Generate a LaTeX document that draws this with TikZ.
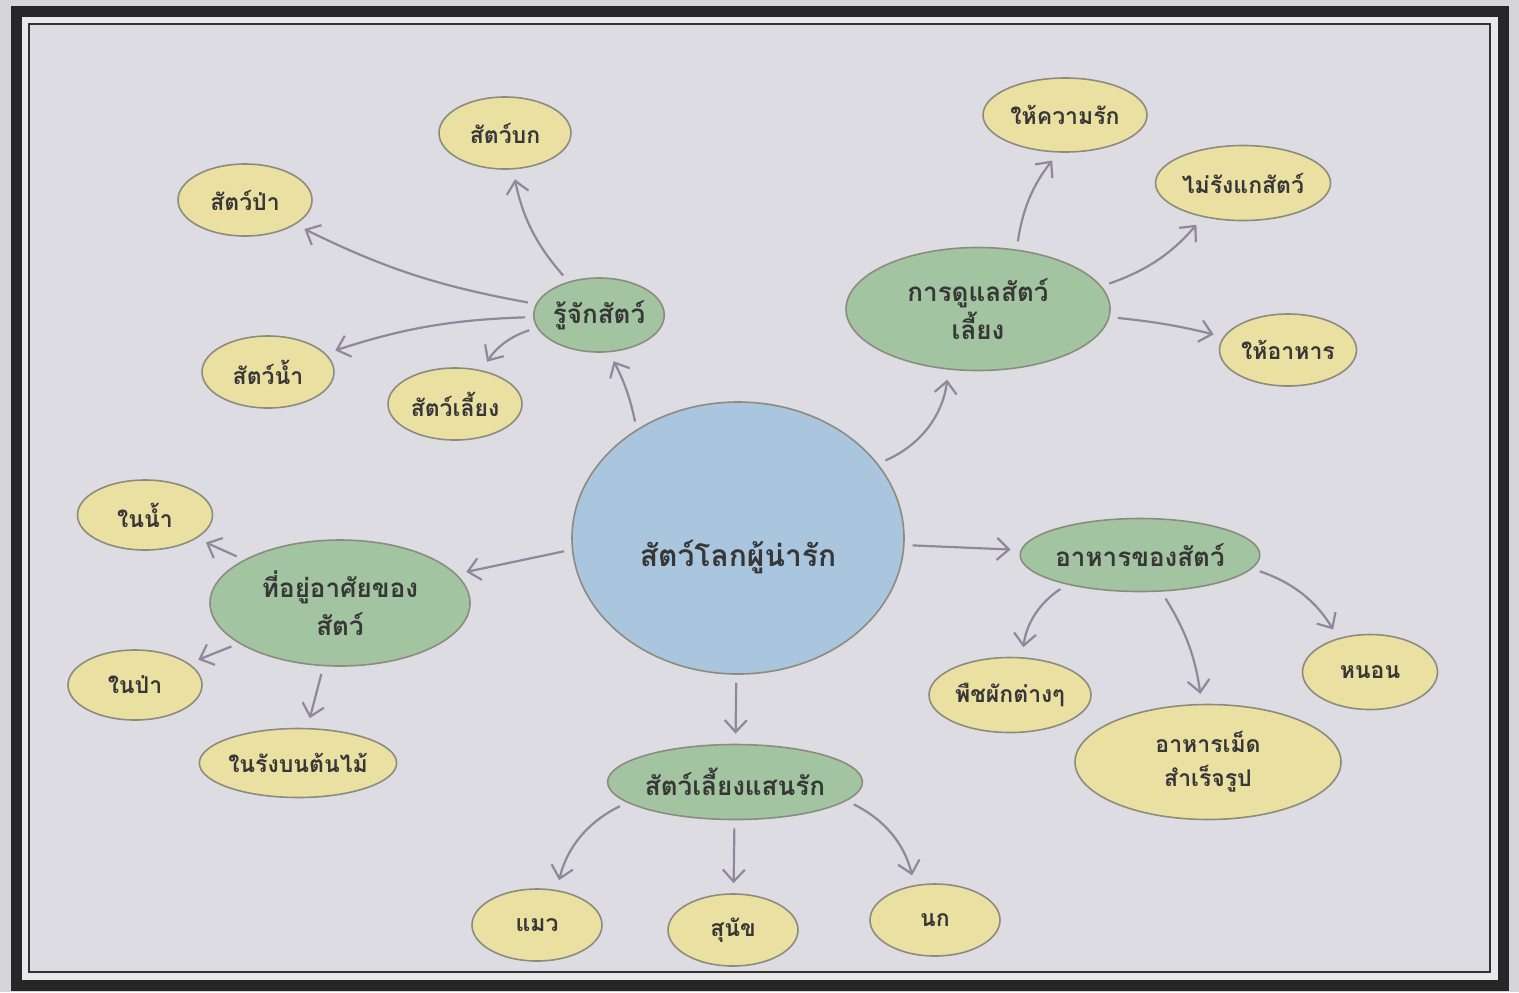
\documentclass[tikz,border=0pt]{standalone}
\usepackage{fontspec}
\newfontfamily\thaifont[Script=Thai]{Loma}
\usepackage{tikz}
\usetikzlibrary{arrows.meta}
\usetikzlibrary{positioning}
\usetikzlibrary{shapes.geometric}

\definecolor{margin}{RGB}{214,213,215}
\definecolor{gap}{RGB}{232,231,234}
\definecolor{paper}{RGB}{222,220,227}
\definecolor{hubblue}{RGB}{170,197,222}
\definecolor{topicgreen}{RGB}{162,196,160}
\definecolor{leafyellow}{RGB}{234,224,162}
\definecolor{rimgray}{RGB}{140,140,126}
\definecolor{linkgray}{RGB}{142,136,156}
\definecolor{inkgray}{RGB}{55,55,55}

\tikzset{
    hub/.style={
           ellipse,
           draw=rimgray, line width=0.8pt,
           fill=hubblue,
           minimum width=166pt,
           minimum height=136pt,
           inner sep=0pt,
           text height=28pt, text depth=0pt,
           text=inkgray,
           font=\thaifont\bfseries\fontsize{15}{20}\selectfont,
           },
    topic/.style={
           ellipse,
           draw=rimgray, line width=0.8pt,
           fill=topicgreen,
           minimum width=66pt,
           minimum height=37pt,
           inner sep=0pt,
           align=center,
           text=inkgray,
           font=\thaifont\bfseries\fontsize{13}{19}\selectfont,
           },
    leaf/.style={
           ellipse,
           draw=rimgray, line width=0.8pt,
           fill=leafyellow,
           minimum width=66pt,
           minimum height=36pt,
           inner sep=0pt,
           align=center,
           text=inkgray,
           font=\thaifont\bfseries\fontsize{11.5}{17}\selectfont,
           },
    link/.style={
           color=linkgray, line width=1.1pt,
           shorten <=4pt, shorten >=5pt,
           },
}

\begin{document}
\begin{tikzpicture}
[
x=0.5pt,y=-0.5pt,
->,>={Straight Barb[length=6pt,width=11pt]}
]
 \useasboundingbox (0,0) rectangle (1519,992);

 % paper and double frame
 \fill[margin] (0,0) rectangle (1519,992);
 \fill[gap] (16,11) rectangle (1503,985);
 \fill[paper] (29,24) rectangle (1490,972);
 \draw[-, black!85, line width=5.5pt] (16,11) rectangle (1503,985);
 \draw[-, black!80, line width=1.4pt] (29,24) rectangle (1490,972);

 % middle node (text sits a little low in the circle)
 \node[hub] (CENTER) at (738,538) {สัตว์โลกผู้น่ารัก};

 % five topics around the middle
 \node[topic,
 above of=CENTER,
 node distance=111.5pt,
 xshift=-69.5pt,
 minimum width=65pt] (KNOW) {รู้จักสัตว์};

 \node[topic,
 above of=CENTER,
 node distance=114.5pt,
 xshift=120pt,
 minimum width=132pt,
 minimum height=61.5pt] (CARE) {การดูแลสัตว์\\เลี้ยง};

 \node[topic,
 left of=CENTER,
 node distance=199pt,
 yshift=-32.5pt,
 minimum width=130pt,
 minimum height=63pt] (HOME) {ที่อยู่อาศัยของ\\สัตว์};

 \node[topic,
 right of=CENTER,
 node distance=201pt,
 yshift=-8.5pt,
 minimum width=119pt,
 minimum height=36.5pt] (FOOD) {อาหารของสัตว์};

 \node[topic,
 below of=CENTER,
 node distance=122pt,
 xshift=-1.5pt,
 minimum width=123pt,
 minimum height=37.5pt] (PET) {สัตว์เลี้ยงแสนรัก};

 % leaves of KNOW
 \node[leaf, above of=KNOW, node distance=91pt, xshift=-47pt] (LAND) {สัตว์บก};
 \node[leaf, left of=KNOW, node distance=177pt, yshift=57.5pt, minimum width=67pt] (WILD) {สัตว์ป่า};
 \node[leaf, left of=KNOW, node distance=165.5pt, yshift=-28.5pt] (WATER) {สัตว์น้ำ};
 \node[leaf, below of=KNOW, node distance=44.5pt, xshift=-72pt, minimum width=67pt] (PETS) {สัตว์เลี้ยง};

 % leaves of CARE
 \node[leaf, above of=CARE, node distance=97pt, xshift=43.5pt, minimum width=82pt, minimum height=37pt] (LOVE) {ให้ความรัก};
 \node[leaf, right of=CARE, node distance=132.5pt, yshift=63pt, minimum width=87.5pt, minimum height=37.5pt] (KIND) {ไม่รังแกสัตว์};
 \node[leaf, right of=CARE, node distance=155pt, yshift=-20.5pt, minimum width=68.5pt] (FEED) {ให้อาหาร};

 % leaves of HOME
 \node[leaf, left of=HOME, node distance=97.5pt, yshift=44pt, minimum width=67.5pt, minimum height=35pt] (INWATER) {ในน้ำ};
 \node[leaf, left of=HOME, node distance=102.5pt, yshift=-41pt, minimum width=67pt, minimum height=35pt] (INFOREST) {ในป่า};
 \node[leaf, below of=HOME, node distance=80pt, xshift=-21pt, minimum width=98pt, minimum height=34.5pt] (INNEST) {ในรังบนต้นไม้};

 % leaves of FOOD
 \node[leaf, below of=FOOD, node distance=70pt, xshift=-65pt, minimum width=81pt, minimum height=37.5pt] (PLANT) {พืชผักต่างๆ};
 \node[leaf, below of=FOOD, node distance=103.5pt, xshift=34pt, minimum width=133pt, minimum height=57.5pt] (PELLET) {อาหารเม็ด\\สำเร็จรูป};
 \node[leaf, right of=FOOD, node distance=115pt, yshift=-58.5pt, minimum width=67.5pt, minimum height=37.5pt] (WORM) {หนอน};

 % leaves of PET
 \node[leaf, below of=PET, node distance=71.5pt, xshift=-99pt, minimum width=65pt] (CAT) {แมว};
 \node[leaf, below of=PET, node distance=74pt, xshift=-1pt, minimum width=65pt] (DOG) {สุนัข};
 \node[leaf, below of=PET, node distance=69pt, xshift=100pt, minimum width=65pt] (BIRD) {นก};

 % arrows
 \path[link]
  (CENTER.133) edge[bend right=8] (KNOW.285)
  (CENTER.28) edge[bend right=30] (CARE.244)
  (CENTER.184) edge (HOME.14)
  (CENTER) edge (FOOD)
  (CENTER) edge (PET)
  (KNOW) edge[bend left=15] (LAND)
  (KNOW) edge[bend left=8] (WILD)
  (KNOW) edge[bend right=8] (WATER)
  (KNOW) edge[bend right=20] (PETS)
  (CARE.57) edge[bend left=15] (LOVE.260)
  (CARE) edge[bend right=15] (KIND)
  (CARE) edge[bend left=4] (FEED)
  (HOME) edge (INWATER)
  (HOME) edge (INFOREST)
  (HOME) edge (INNEST)
  (FOOD) edge[bend right=25] (PLANT)
  (FOOD) edge[bend left=12] (PELLET)
  (FOOD) edge[bend left=20] (WORM)
  (PET) edge[bend right=25] (CAT)
  (PET) edge (DOG)
  (PET) edge[bend left=25] (BIRD)
 ;
\end{tikzpicture}
\end{document}
